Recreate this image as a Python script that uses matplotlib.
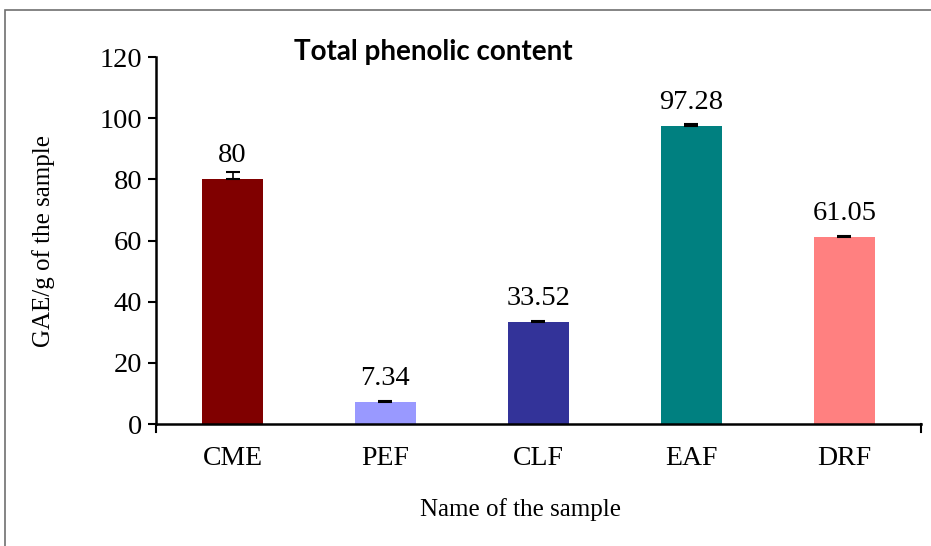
import matplotlib.pyplot as plt
from matplotlib.patches import Rectangle

samples = ['CME', 'PEF', 'CLF', 'EAF', 'DRF']
tpc = [80, 7.34, 33.52, 97.28, 61.05]
tpc_err = [2.5, 0.2, 0.3, 0.7, 0.4]
colors = ['#800000', '#9999FF', '#333399', '#008080', '#FF8080']

plt.rcParams['font.family'] = 'Liberation Serif'

fig = plt.figure(figsize=(9.31, 5.46), dpi=100)
ax = fig.add_axes([0.1676, 0.2234, 0.8214, 0.6722])

x = range(len(samples))
ax.bar(x, tpc, width=0.4, color=colors, zorder=2)
ax.errorbar(x, tpc, yerr=[[0] * len(tpc), tpc_err], fmt='none', ecolor='black',
            elinewidth=1.2, capsize=5, capthick=1.5, zorder=3)

for i, v in enumerate(tpc):
    ax.annotate(f'{v:g}', (i, v), xytext=(0, 11), textcoords='offset pixels',
                ha='center', va='bottom', fontsize=20.5)

ax.set_xlim(-0.5, len(samples) - 0.5)
ax.set_ylim(0, 120)
ax.set_yticks(range(0, 121, 20))
ax.set_xticks(list(x))
ax.set_xticklabels(samples)
ax.tick_params(axis='x', length=0, labelsize=20, pad=16)
ax.tick_params(axis='y', length=6, width=1.5, labelsize=20.5, pad=4)

# category edge ticks at both ends of the x axis
ax.plot([-0.5, -0.5], [0, -2.5], color='black', lw=1.5, clip_on=False)
ax.plot([len(samples) - 0.5] * 2, [0, -2.5], color='black', lw=1.5, clip_on=False)

for side in ['top', 'right']:
    ax.spines[side].set_visible(False)
ax.spines['left'].set_linewidth(1.8)
ax.spines['bottom'].set_linewidth(1.8)

ax.set_xlabel('Name of the sample', fontsize=18, labelpad=19)
ax.xaxis.label.set_x(0.477)
ax.set_ylabel('GAE/g of the sample', fontsize=18, labelpad=32)

fig.text(0.465, 0.905, 'Total phenolic content', fontsize=20, fontweight='bold',
         family='Lato', ha='center', va='center')

fig.patches.append(Rectangle((5 / 931, -0.5), 1.2, 1.5 - 10 / 546, transform=fig.transFigure,
                             fill=False, edgecolor='#707070', lw=1.2))

fig.savefig('out.png', dpi=100)
